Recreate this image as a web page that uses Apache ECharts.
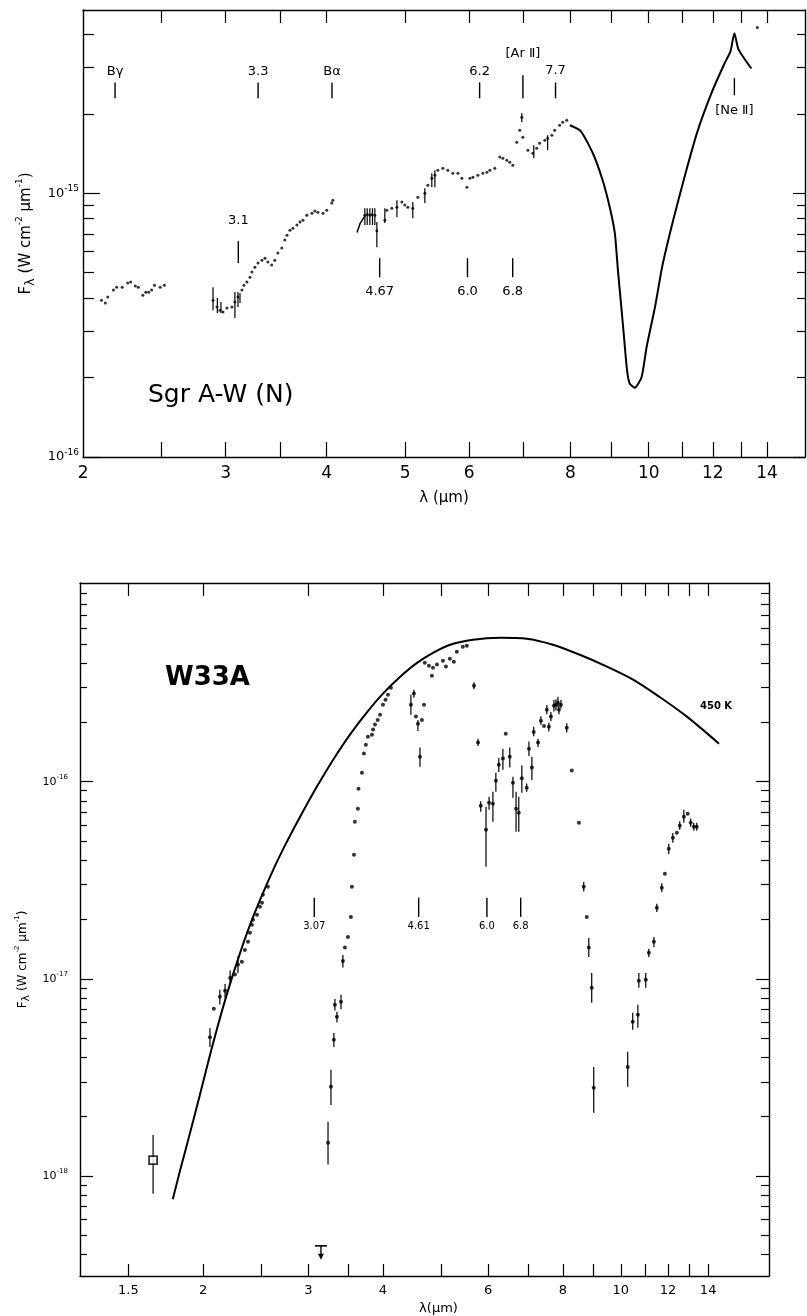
<!DOCTYPE html>
<html>
<head>
<meta charset="utf-8">
<title>Sgr A-W (N) / W33A</title>
<script src="https://cdn.jsdelivr.net/npm/echarts@6/dist/echarts.min.js"></script>
<style>
html, body { margin: 0; padding: 0; background: #fff; }
#main { width: 807px; height: 1316px; }
</style>
</head>
<body>
<div id="main"></div>
<script>
// ---------- top panel : Sgr A-W (N) ----------
var sgrLamA = [2.107, 2.13, 2.145, 2.18, 2.20, 2.235, 2.27, 2.29, 2.32, 2.34, 2.37, 2.39, 2.41, 2.43, 2.45, 2.49, 2.52];
var sgrFluxA = [3.93e-16, 3.83e-16, 4.04e-16, 4.29e-16, 4.40e-16, 4.40e-16, 4.56e-16, 4.60e-16, 4.45e-16, 4.40e-16, 4.10e-16, 4.21e-16, 4.21e-16, 4.29e-16, 4.48e-16, 4.40e-16, 4.48e-16];

var sgrLamB = [2.894, 2.927, 2.952, 2.977, 3.011, 3.054, 3.08, 3.107, 3.142, 3.16, 3.187, 3.215, 3.233, 3.26, 3.289, 3.326, 3.355, 3.383, 3.42, 3.45, 3.48, 3.52, 3.55, 3.572, 3.602, 3.633, 3.674, 3.706, 3.738, 3.78, 3.835, 3.867, 3.9, 3.957, 4.0, 4.058, 4.07];
var sgrFluxB = [3.93e-16, 3.70e-16, 3.60e-16, 3.54e-16, 3.67e-16, 3.70e-16, 3.87e-16, 4.04e-16, 4.29e-16, 4.48e-16, 4.60e-16, 4.80e-16, 5.02e-16, 5.24e-16, 5.43e-16, 5.57e-16, 5.67e-16, 5.48e-16, 5.34e-16, 5.57e-16, 5.93e-16, 6.19e-16, 6.64e-16, 6.93e-16, 7.24e-16, 7.37e-16, 7.57e-16, 7.77e-16, 7.90e-16, 8.25e-16, 8.40e-16, 8.55e-16, 8.47e-16, 8.40e-16, 8.62e-16, 9.17e-16, 9.41e-16];

var sgrLamC = [4.458, 4.49, 4.522, 4.55, 4.587, 4.613, 4.719, 4.746, 4.814, 4.884, 4.953, 4.995, 5.038, 5.110, 5.184, 5.288, 5.333, 5.394, 5.441, 5.487, 5.566, 5.645, 5.727, 5.81, 5.876, 5.96, 6.011, 6.063, 6.15, 6.237, 6.309, 6.363, 6.453, 6.546, 6.602, 6.677, 6.734, 6.792, 6.869, 6.928, 6.968, 6.988, 7.09, 7.19, 7.27, 7.33, 7.44, 7.50, 7.59, 7.65, 7.76, 7.83, 7.92];
var sgrFluxC = [8.25e-16, 8.3e-16, 8.25e-16, 8.3e-16, 8.25e-16, 7.2e-16, 7.9e-16, 8.62e-16, 8.77e-16, 8.85e-16, 9.25e-16, 9.01e-16, 8.85e-16, 8.77e-16, 9.66e-16, 1.0e-15, 1.072e-15, 1.14e-15, 1.17e-15, 1.222e-15, 1.244e-15, 1.222e-15, 1.19e-15, 1.19e-15, 1.14e-15, 1.054e-15, 1.14e-15, 1.15e-15, 1.17e-15, 1.19e-15, 1.2e-15, 1.222e-15, 1.244e-15, 1.37e-15, 1.357e-15, 1.334e-15, 1.31e-15, 1.276e-15, 1.56e-15, 1.733e-15, 1.94e-15, 1.63e-15, 1.455e-15, 1.417e-15, 1.48e-15, 1.546e-15, 1.587e-15, 1.616e-15, 1.659e-15, 1.733e-15, 1.81e-15, 1.858e-15, 1.89e-15];

var sgrHookLam = [4.36, 4.40, 4.46];
var sgrHookFlux = [7.1e-16, 7.7e-16, 8.2e-16];

var sgrCurveLam = [7.99, 8.24, 8.53, 8.77, 8.95, 9.08, 9.16, 9.24, 9.32, 9.40, 9.47, 9.61, 9.80, 9.94, 10.18, 10.40, 10.72, 11.07, 11.47, 11.95, 12.41, 12.62, 12.76, 12.91, 13.39];
var sgrCurveFlux = [1.81e-15, 1.72e-15, 1.417e-15, 1.12e-15, 8.85e-16, 7.06e-16, 5.11e-16, 3.83e-16, 2.85e-16, 2.14e-16, 1.9e-16, 1.83e-16, 2.01e-16, 2.61e-16, 3.7e-16, 5.34e-16, 7.9e-16, 1.15e-15, 1.69e-15, 2.39e-15, 3.11e-15, 3.45e-15, 4.04e-15, 3.51e-15, 2.97e-15];

var sgrDotLam = [13.62];
var sgrDotFlux = [4.25e-15];

var sgrErrLam = [2.894, 2.93, 2.96, 3.08, 3.107, 3.125, 4.458, 4.488, 4.522, 4.556, 4.587, 4.613, 4.719, 4.884, 5.110, 5.288, 5.394, 5.441, 6.968, 7.21, 7.50];
var sgrErrHi = [4.4e-16, 4.0e-16, 3.87e-16, 4.22e-16, 4.22e-16, 4.18e-16, 8.77e-16, 8.77e-16, 8.77e-16, 8.77e-16, 8.77e-16, 7.77e-16, 8.77e-16, 9.41e-16, 9.25e-16, 1.044e-15, 1.19e-15, 1.222e-15, 2.01e-15, 1.52e-15, 1.659e-15];
var sgrErrLo = [3.6e-16, 3.51e-16, 3.51e-16, 3.36e-16, 3.7e-16, 3.83e-16, 7.57e-16, 7.57e-16, 7.57e-16, 7.57e-16, 7.57e-16, 6.24e-16, 7.7e-16, 8.11e-16, 8.04e-16, 9.17e-16, 1.054e-15, 1.054e-15, 1.86e-15, 1.357e-15, 1.455e-15];

var sgrAnnLabels = ['B\u03b3', '3.3', 'B\u03b1', '6.2', '[Ar \u2161]', '7.7', '3.1', '4.67', '6.0', '6.8', '[Ne \u2161]'];
var sgrAnnLam = [2.19, 3.29, 4.06, 6.18, 6.99, 7.67, 3.11, 4.65, 5.97, 6.79, 12.76];
var sgrAnnTickHi = [2.63e-15, 2.63e-15, 2.63e-15, 2.63e-15, 2.8e-15, 2.63e-15, 6.58e-16, 5.67e-16, 5.67e-16, 5.67e-16, 2.73e-15];
var sgrAnnTickLo = [2.29e-15, 2.29e-15, 2.29e-15, 2.29e-15, 2.29e-15, 2.29e-15, 5.43e-16, 4.8e-16, 4.8e-16, 4.8e-16, 2.35e-15];
var sgrAnnTextAt = [2.9e-15, 2.9e-15, 2.9e-15, 2.9e-15, 3.39e-15, 2.92e-15, 7.9e-16, 4.25e-16, 4.25e-16, 4.25e-16, 2.06e-15];

var sgrXTicks = [2.5, 3, 3.5, 4, 5, 6, 7, 8, 9, 10, 11, 12, 13, 14];
var sgrXLabels = [2, 3, 4, 5, 6, 8, 10, 12, 14];
var sgrYMajor = [1e-16, 1e-15];
var sgrYMinor = [2e-16, 3e-16, 4e-16, 5e-16, 6e-16, 7e-16, 8e-16, 9e-16, 2e-15, 3e-15, 4e-15];

// ---------- bottom panel : W33A ----------
var bbLam = [1.78, 1.83, 1.88, 1.98, 2.08, 2.19, 2.31, 2.43, 2.59, 2.72, 2.91, 3.10, 3.30, 3.52, 3.76, 4.00, 4.27, 4.56, 4.85, 5.18, 5.66, 6.28, 6.96, 7.70, 8.54, 9.48, 10.5, 11.6, 12.9, 14.6];
var bbFlux = [7.6e-19, 1.06e-18, 1.44e-18, 2.64e-18, 4.73e-18, 8.26e-18, 1.37e-17, 2.09e-17, 3.30e-17, 4.52e-17, 6.68e-17, 9.42e-17, 1.29e-16, 1.73e-16, 2.25e-16, 2.80e-16, 3.40e-16, 4.01e-16, 4.51e-16, 4.96e-16, 5.26e-16, 5.38e-16, 5.32e-16, 4.96e-16, 4.41e-16, 3.84e-16, 3.29e-16, 2.70e-16, 2.14e-16, 1.56e-16];

var w33LamNear = [2.054, 2.085, 2.134, 2.177, 2.22, 2.262, 2.288, 2.323, 2.35, 2.378, 2.396, 2.414, 2.424, 2.462, 2.49, 2.51, 2.519, 2.568];
var w33FluxNear = [5.05e-18, 7.04e-18, 8.1e-18, 8.69e-18, 1.01e-17, 1.05e-17, 1.18e-17, 1.22e-17, 1.4e-17, 1.54e-17, 1.71e-17, 1.88e-17, 1.99e-17, 2.11e-17, 2.32e-17, 2.43e-17, 2.67e-17, 2.93e-17];

var w33LamIce = [3.237, 3.274, 3.311, 3.324, 3.35, 3.403, 3.428, 3.455, 3.495, 3.535, 3.549, 3.577, 3.59, 3.632, 3.64, 3.689, 3.717, 3.745, 3.775, 3.834, 3.85, 3.879, 3.92, 3.955, 4.0, 4.04, 4.078, 4.125,
	4.455, 4.507, 4.542, 4.577, 4.613, 4.648, 4.685,
	4.70, 4.775, 4.83, 4.85, 4.925, 5.04, 5.098, 5.176, 5.256, 5.317, 5.441, 5.526];
var w33FluxIce = [1.47e-18, 2.83e-18, 4.9e-18, 7.38e-18, 6.41e-18, 7.64e-18, 1.23e-17, 1.44e-17, 1.63e-17, 2.06e-17, 2.93e-17, 4.26e-17, 6.27e-17, 7.3e-17, 9.2e-17, 1.11e-16, 1.39e-16, 1.54e-16, 1.69e-16, 1.73e-16, 1.84e-16, 1.95e-16, 2.06e-16, 2.19e-16, 2.46e-16, 2.61e-16, 2.76e-16, 3.0e-16,
	2.46e-16, 2.80e-16, 2.14e-16, 1.97e-16, 1.34e-16, 2.06e-16, 2.46e-16,
	4.02e-16, 3.88e-16, 3.45e-16, 3.79e-16, 3.93e-16, 4.11e-16, 3.84e-16, 4.21e-16, 4.06e-16, 4.57e-16, 4.84e-16, 4.9e-16];

var w33LamMid = [5.68, 5.77, 5.83, 5.95, 6.02, 6.11, 6.18, 6.25, 6.35, 6.42, 6.52, 6.60, 6.68, 6.75, 6.83, 6.96, 7.02, 7.10, 7.15, 7.27, 7.35, 7.44, 7.52, 7.58, 7.64, 7.73, 7.79, 7.85, 7.88, 7.94, 8.12, 8.28, 8.51, 8.67, 8.77, 8.84, 8.94, 9.01];
var w33FluxMid = [3.07e-16, 1.58e-16, 7.55e-17, 5.71e-17, 7.82e-17, 7.73e-17, 1.01e-16, 1.22e-16, 1.31e-16, 1.75e-16, 1.34e-16, 9.89e-17, 7.29e-17, 6.96e-17, 1.04e-16, 9.32e-17, 1.47e-16, 1.18e-16, 1.79e-16, 1.58e-16, 2.04e-16, 1.92e-16, 2.32e-16, 1.90e-16, 2.14e-16, 2.43e-16, 2.46e-16, 2.52e-16, 2.32e-16, 2.46e-16, 1.88e-16, 1.14e-16, 6.19e-17, 2.93e-17, 2.06e-17, 1.44e-17, 9.0e-18, 2.8e-18];

var w33LamSil = [10.27, 10.47, 10.68, 10.72, 11.01, 11.14, 11.36, 11.49, 11.71, 11.85, 12.03, 12.22, 12.41, 12.55, 12.75, 12.94, 13.09, 13.25, 13.40];
var w33FluxSil = [3.57e-18, 6.05e-18, 6.57e-18, 9.77e-18, 9.89e-18, 1.355e-17, 1.54e-17, 2.29e-17, 2.90e-17, 3.41e-17, 4.57e-17, 5.2e-17, 5.51e-17, 5.98e-17, 6.64e-17, 6.88e-17, 6.19e-17, 5.91e-17, 5.91e-17];

var w33BoxLam = [1.65];
var w33BoxFlux = [1.2e-18];

var w33LimitLam = [3.15];
var w33LimitFlux = [4.41e-19];
var w33LimitTip = [3.75e-19];

var w33ErrLam = [1.65, 2.054, 2.134, 2.177, 2.22, 2.288, 3.237, 3.274, 3.311, 3.324, 3.35, 3.403, 3.428, 4.455, 4.507, 4.577, 4.613,
	5.68, 5.77, 5.83, 5.95, 6.02, 6.11, 6.18, 6.25, 6.35, 6.52, 6.60, 6.68, 6.75, 6.83, 6.96, 7.02, 7.10, 7.15, 7.27, 7.35, 7.52, 7.58, 7.64, 7.73, 7.79, 7.85, 7.88, 7.94, 8.12, 8.67, 8.84, 8.94, 9.01,
	10.27, 10.47, 10.68, 10.72, 11.01, 11.14, 11.36, 11.49, 11.71, 12.03, 12.22, 12.55, 12.75, 13.09, 13.25, 13.40];
var w33ErrHi = [1.61e-18, 5.6e-18, 8.8e-18, 9.4e-18, 1.1e-17, 1.3e-17, 1.88e-18, 3.45e-18, 5.3e-18, 7.9e-18, 6.8e-18, 8.3e-18, 1.32e-17, 2.76e-16, 2.93e-16, 2.06e-16, 1.49e-16,
	3.2e-16, 1.65e-16, 7.96e-17, 7.47e-17, 8.4e-17, 8.9e-17, 1.11e-16, 1.32e-16, 1.47e-16, 1.49e-16, 1.06e-16, 8.9e-17, 8.4e-17, 1.21e-16, 9.8e-17, 1.6e-16, 1.34e-16, 1.9e-16, 1.65e-16, 2.15e-16, 2.45e-16, 2.0e-16, 2.26e-16, 2.6e-16, 2.62e-16, 2.7e-16, 2.45e-16, 2.6e-16, 1.98e-16, 3.1e-17, 1.61e-17, 1.07e-17, 3.57e-18,
	4.26e-18, 6.72e-18, 7.38e-18, 1.07e-17, 1.07e-17, 1.42e-17, 1.63e-17, 2.4e-17, 3.05e-17, 4.85e-17, 5.5e-17, 6.3e-17, 7.2e-17, 6.5e-17, 6.2e-17, 6.2e-17];
var w33ErrLo = [8.1e-19, 4.5e-18, 7.4e-18, 8.0e-18, 9.4e-18, 1.07e-17, 1.14e-18, 2.29e-18, 4.5e-18, 6.9e-18, 6.0e-18, 7.0e-18, 1.14e-17, 2.19e-16, 2.67e-16, 1.81e-16, 1.19e-16,
	2.95e-16, 1.52e-16, 7.05e-17, 3.7e-17, 7.2e-17, 6.27e-17, 8.9e-17, 1.12e-16, 1.15e-16, 1.18e-16, 8.3e-17, 5.58e-17, 5.58e-17, 8.8e-17, 8.9e-17, 1.35e-16, 1.02e-16, 1.7e-16, 1.5e-16, 1.94e-16, 2.2e-16, 1.8e-16, 2.03e-16, 2.27e-16, 2.3e-16, 2.38e-16, 2.2e-16, 2.35e-16, 1.78e-16, 2.77e-17, 1.29e-17, 7.55e-18, 2.09e-18,
	2.83e-18, 5.51e-18, 5.64e-18, 9.0e-18, 9.0e-18, 1.29e-17, 1.45e-17, 2.18e-17, 2.76e-17, 4.3e-17, 4.9e-17, 5.7e-17, 6.19e-17, 5.9e-17, 5.64e-17, 5.64e-17];

var w33AnnLabels = ['3.07', '4.61', '6.0', '6.8'];
var w33AnnLam = [3.07, 4.59, 5.97, 6.80];
var w33AnnTickHi = [2.58e-17, 2.58e-17, 2.58e-17, 2.58e-17];
var w33AnnTickLo = [2.06e-17, 2.06e-17, 2.06e-17, 2.06e-17];
var w33AnnTextAt = [1.84e-17, 1.84e-17, 1.84e-17, 1.84e-17];

var w33XTicksBottom = [1.5, 2, 2.5, 3, 3.5, 4, 5, 6, 7, 8, 9, 10, 11, 12, 13, 14];
var w33XTicksTop = [1.5, 2, 3, 4, 5, 6, 7, 8, 9, 10, 11, 12, 13, 14];
var w33XLabels = [1.5, 2, 3, 4, 6, 8, 10, 12, 14];
var w33YMajor = [1e-18, 1e-17, 1e-16];
var w33YMinor = [4e-19, 5e-19, 6e-19, 7e-19, 8e-19, 9e-19, 2e-18, 3e-18, 4e-18, 5e-18, 6e-18, 7e-18, 8e-18, 9e-18,
	2e-17, 3e-17, 4e-17, 5e-17, 6e-17, 7e-17, 8e-17, 9e-17, 2e-16, 3e-16, 4e-16, 5e-16, 6e-16, 7e-16, 8e-16, 9e-16];

var font = 'DejaVu Sans';

function pairs(xs, ys) {
	return xs.map(function (x, i) { return [x, ys[i]]; });
}
function triples(xs, a, b) {
	return xs.map(function (x, i) { return [x, a[i], b[i]]; });
}
function annData(xs, hi, lo, at) {
	return xs.map(function (x, i) { return [x, hi[i], lo[i], at[i]]; });
}
function powLabel(v) {
	var e = Math.round(Math.log(v) / Math.LN10);
	return '{b|10}{s|' + e + '}';
}
function numLabel(v) {
	return String(+Number(v).toPrecision(3));
}

function frameAxis(o) {
	var ax = {
		type: 'log',
		logBase: 10,
		gridIndex: o.grid,
		position: o.pos,
		min: o.min,
		max: o.max,
		axisLine: { show: o.line !== false, onZero: false, lineStyle: { color: '#000', width: 1.4 } },
		axisTick: { show: true, inside: true, length: o.tickLen, customValues: o.ticks, lineStyle: { color: '#000', width: 1.2 } },
		axisLabel: { show: false },
		splitLine: { show: false },
		minorTick: { show: false },
		silent: true
	};
	if (o.labels) {
		ax.axisLabel = {
			show: true,
			customValues: o.labels,
			formatter: o.fmt,
			margin: o.margin,
			color: '#000',
			fontFamily: font,
			fontSize: o.fontSize,
			showMinLabel: true,
			showMaxLabel: true,
			rich: o.rich
		};
	}
	if (o.name) {
		ax.name = o.name;
		ax.nameLocation = 'middle';
		ax.nameGap = o.nameGap;
		if (o.nameRotate !== undefined) ax.nameRotate = o.nameRotate;
		ax.nameTextStyle = o.nameStyle;
	}
	return ax;
}

function errRender(params, api) {
	var hi = api.coord([api.value(0), api.value(1)]);
	var lo = api.coord([api.value(0), api.value(2)]);
	return {
		type: 'line',
		shape: { x1: hi[0], y1: hi[1], x2: lo[0], y2: lo[1] },
		style: { stroke: '#000', lineWidth: 1.2 }
	};
}
function annRender(labels, fontSize) {
	return function (params, api) {
		var hi = api.coord([api.value(0), api.value(1)]);
		var lo = api.coord([api.value(0), api.value(2)]);
		var at = api.coord([api.value(0), api.value(3)]);
		return {
			type: 'group',
			children: [{
				type: 'line',
				shape: { x1: hi[0], y1: hi[1], x2: lo[0], y2: lo[1] },
				style: { stroke: '#000', lineWidth: 1.4 }
			}, {
				type: 'text',
				x: at[0],
				y: at[1],
				style: { text: labels[params.dataIndex], fill: '#000', fontSize: fontSize, fontFamily: font, align: 'center', verticalAlign: 'middle' }
			}]
		};
	};
}
function limitRender(params, api) {
	var top = api.coord([api.value(0), api.value(1)]);
	var tip = api.coord([api.value(0), api.value(2)]);
	return {
		type: 'group',
		children: [{
			type: 'line',
			shape: { x1: top[0] - 6, y1: top[1], x2: top[0] + 6, y2: top[1] },
			style: { stroke: '#000', lineWidth: 1.6 }
		}, {
			type: 'line',
			shape: { x1: top[0], y1: top[1], x2: tip[0], y2: tip[1] - 4 },
			style: { stroke: '#000', lineWidth: 1.4 }
		}, {
			type: 'polygon',
			shape: { points: [[tip[0] - 3, tip[1] - 6], [tip[0] + 3, tip[1] - 6], [tip[0], tip[1]]] },
			style: { fill: '#000' }
		}]
	};
}

var ySmallRich = {
	b: { fontSize: 11, lineHeight: 16, fontFamily: font, color: '#000' },
	s: { fontSize: 7, lineHeight: 8, verticalAlign: 'top', fontFamily: font, color: '#000' }
};
var yBigRich = {
	b: { fontSize: 13, lineHeight: 18, fontFamily: font, color: '#000' },
	s: { fontSize: 9, lineHeight: 9, verticalAlign: 'top', fontFamily: font, color: '#000' }
};

var myChart = echarts.init(document.getElementById('main'), null, { renderer: 'canvas' });

option = {
	backgroundColor: '#fff',
	animation: false,
	grid: [
		{ left: 83, top: 10, width: 722, height: 447, outerBoundsMode: 'none' },
		{ left: 80, top: 583, width: 689, height: 693, outerBoundsMode: 'none' }
	],
	xAxis: [
		frameAxis({ grid: 0, pos: 'bottom', min: 1.999, max: 15.6, ticks: sgrXTicks, tickLen: 15, labels: sgrXLabels, fmt: numLabel, margin: 8, fontSize: 17,
			name: '\u03bb (\u03bcm)', nameGap: 34, nameStyle: { fontFamily: font, fontSize: 15, color: '#000' } }),
		frameAxis({ grid: 0, pos: 'top', min: 1.999, max: 15.6, ticks: sgrXTicks, tickLen: 13 }),
		frameAxis({ grid: 1, pos: 'bottom', min: 1.245, max: 17.7, ticks: w33XTicksBottom, tickLen: 12, labels: w33XLabels, fmt: numLabel, margin: 8, fontSize: 13,
			name: '\u03bb(\u03bcm)', nameGap: 22, nameStyle: { fontFamily: font, fontSize: 13, color: '#000', padding: [0, 0, 0, 28] } }),
		frameAxis({ grid: 1, pos: 'top', min: 1.245, max: 17.7, ticks: w33XTicksTop, tickLen: 13 })
	],
	yAxis: [
		frameAxis({ grid: 0, pos: 'left', min: 9.99e-17, max: 4.95e-15, ticks: sgrYMajor, tickLen: 17, labels: sgrYMajor, fmt: powLabel, margin: 4, rich: yBigRich,
			name: 'F{sub|\u03bb} (W cm{sup|-2} \u03bcm{sup|-1})', nameGap: 40, nameRotate: 90,
			nameStyle: { fontFamily: font, fontSize: 15, lineHeight: 22, color: '#000',
				rich: { sub: { fontFamily: font, fontSize: 13, lineHeight: 10, verticalAlign: 'bottom' }, sup: { fontFamily: font, fontSize: 9, lineHeight: 9, verticalAlign: 'top' } } } }),
		frameAxis({ grid: 0, pos: 'left', min: 9.99e-17, max: 4.95e-15, ticks: sgrYMinor, tickLen: 11, line: false }),
		frameAxis({ grid: 0, pos: 'right', min: 9.99e-17, max: 4.95e-15, ticks: sgrYMajor, tickLen: 12 }),
		frameAxis({ grid: 0, pos: 'right', min: 9.99e-17, max: 4.95e-15, ticks: sgrYMinor, tickLen: 8, line: false }),
		frameAxis({ grid: 1, pos: 'left', min: 3.1e-19, max: 1.02e-15, ticks: w33YMajor, tickLen: 13, labels: w33YMajor, fmt: powLabel, margin: 12, rich: ySmallRich,
			name: 'F{sub|\u03bb} (W cm{sup|-2} \u03bcm{sup|-1})', nameGap: 47, nameRotate: 90,
			nameStyle: { fontFamily: font, fontSize: 12, lineHeight: 18, color: '#000', padding: [0, 60, 0, 0],
				rich: { sub: { fontFamily: font, fontSize: 11, lineHeight: 8, verticalAlign: 'bottom' }, sup: { fontFamily: font, fontSize: 7, lineHeight: 7, verticalAlign: 'top' } } } }),
		frameAxis({ grid: 1, pos: 'left', min: 3.1e-19, max: 1.02e-15, ticks: w33YMinor, tickLen: 7, line: false }),
		frameAxis({ grid: 1, pos: 'right', min: 3.1e-19, max: 1.02e-15, ticks: w33YMajor, tickLen: 13 }),
		frameAxis({ grid: 1, pos: 'right', min: 3.1e-19, max: 1.02e-15, ticks: w33YMinor, tickLen: 8, line: false })
	],
	graphic: [
		{ type: 'text', left: 148, top: 383, style: { text: 'Sgr A-W (N)', fontSize: 25, fontFamily: font, fill: '#000' } },
		{ type: 'text', left: 165, top: 665, style: { text: 'W33A', fontSize: 26, fontWeight: 'bold', fontFamily: font, fill: '#000' } },
		{ type: 'text', left: 700, top: 701, style: { text: '450 K', fontSize: 10, fontWeight: 'bold', fontFamily: font, fill: '#000' } }
	],
	series: [
		// top panel
		{ type: 'scatter', xAxisIndex: 0, yAxisIndex: 0, symbol: 'circle', symbolSize: 3, itemStyle: { color: '#000' }, data: pairs(sgrLamA, sgrFluxA) },
		{ type: 'scatter', xAxisIndex: 0, yAxisIndex: 0, symbol: 'circle', symbolSize: 3, itemStyle: { color: '#000' }, data: pairs(sgrLamB, sgrFluxB) },
		{ type: 'scatter', xAxisIndex: 0, yAxisIndex: 0, symbol: 'circle', symbolSize: 3, itemStyle: { color: '#000' }, data: pairs(sgrLamC, sgrFluxC) },
		{ type: 'scatter', xAxisIndex: 0, yAxisIndex: 0, symbol: 'circle', symbolSize: 3, itemStyle: { color: '#000' }, data: pairs(sgrDotLam, sgrDotFlux) },
		{ type: 'line', xAxisIndex: 0, yAxisIndex: 0, showSymbol: false, lineStyle: { color: '#000', width: 1.5 }, data: pairs(sgrHookLam, sgrHookFlux) },
		{ type: 'line', xAxisIndex: 0, yAxisIndex: 0, showSymbol: false, smooth: 0.2, lineStyle: { color: '#000', width: 2 }, data: pairs(sgrCurveLam, sgrCurveFlux) },
		{ type: 'custom', xAxisIndex: 0, yAxisIndex: 0, renderItem: errRender, data: triples(sgrErrLam, sgrErrHi, sgrErrLo) },
		{ type: 'custom', xAxisIndex: 0, yAxisIndex: 0, renderItem: annRender(sgrAnnLabels, 13), data: annData(sgrAnnLam, sgrAnnTickHi, sgrAnnTickLo, sgrAnnTextAt) },
		// bottom panel
		{ type: 'line', xAxisIndex: 2, yAxisIndex: 4, showSymbol: false, smooth: 0.3, lineStyle: { color: '#000', width: 2 }, data: pairs(bbLam, bbFlux) },
		{ type: 'custom', xAxisIndex: 2, yAxisIndex: 4, renderItem: errRender, data: triples(w33ErrLam, w33ErrHi, w33ErrLo) },
		{ type: 'scatter', xAxisIndex: 2, yAxisIndex: 4, symbol: 'circle', symbolSize: 4, itemStyle: { color: '#000' }, data: pairs(w33LamNear, w33FluxNear) },
		{ type: 'scatter', xAxisIndex: 2, yAxisIndex: 4, symbol: 'circle', symbolSize: 4, itemStyle: { color: '#000' }, data: pairs(w33LamIce, w33FluxIce) },
		{ type: 'scatter', xAxisIndex: 2, yAxisIndex: 4, symbol: 'circle', symbolSize: 4, itemStyle: { color: '#000' }, data: pairs(w33LamMid, w33FluxMid) },
		{ type: 'scatter', xAxisIndex: 2, yAxisIndex: 4, symbol: 'circle', symbolSize: 4, itemStyle: { color: '#000' }, data: pairs(w33LamSil, w33FluxSil) },
		{ type: 'scatter', xAxisIndex: 2, yAxisIndex: 4, symbol: 'rect', symbolSize: 8, itemStyle: { color: '#fff', borderColor: '#000', borderWidth: 1.8 }, data: pairs(w33BoxLam, w33BoxFlux) },
		{ type: 'custom', xAxisIndex: 2, yAxisIndex: 4, renderItem: limitRender, data: triples(w33LimitLam, w33LimitFlux, w33LimitTip) },
		{ type: 'custom', xAxisIndex: 2, yAxisIndex: 4, renderItem: annRender(w33AnnLabels, 10), data: annData(w33AnnLam, w33AnnTickHi, w33AnnTickLo, w33AnnTextAt) }
	]
};
myChart.setOption(option);
</script>
</body>
</html>
